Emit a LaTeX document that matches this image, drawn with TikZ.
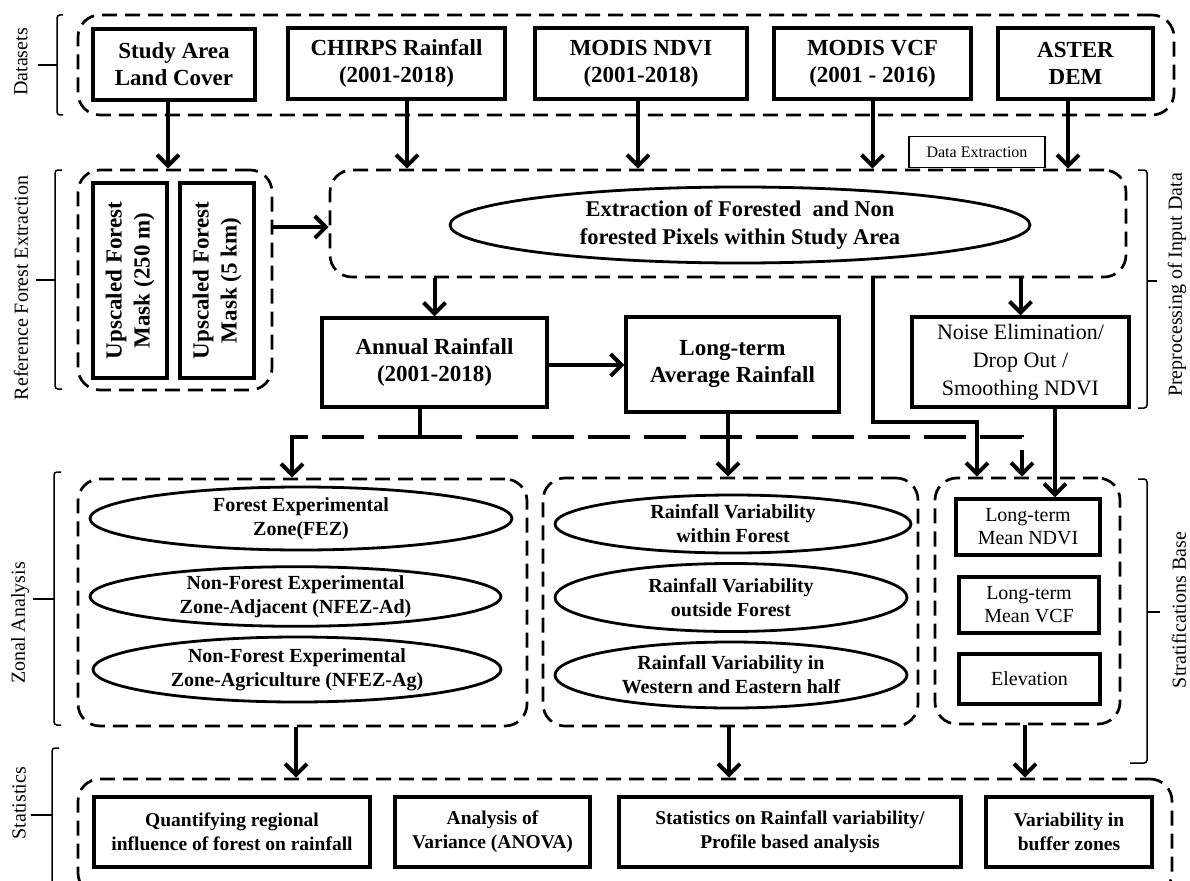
\documentclass[tikz,border=0pt]{standalone}
\usepackage{fontspec}
\setmainfont{Liberation Serif}
\usetikzlibrary{arrows.meta,shapes.geometric,calc}
\begin{document}
\begin{tikzpicture}[x=1pt,y=-1pt,
  bx/.style={draw,line width=3.2pt,inner sep=0pt,align=center,font=\fontsize{23}{27}\selectfont\bfseries},
  sbx/.style={draw,line width=3.2pt,inner sep=0pt,align=center,font=\fontsize{19.5}{24}\selectfont\bfseries},
  nbx/.style={draw,line width=3.2pt,inner sep=0pt,align=center,font=\fontsize{20}{23}\selectfont},
  grp/.style={draw,dash pattern=on 15pt off 8pt,line width=2.7pt,rounded corners=22pt,inner sep=0pt},
  ell/.style={draw,ellipse,line width=2.8pt,inner sep=0pt,align=center,font=\fontsize{20}{24}\selectfont\bfseries},
  arr/.style={line width=4pt,-{Straight Barb[length=11pt,width=22pt]}},
  ln/.style={line width=4pt},
  dline/.style={line width=4.5pt,dash pattern=on 42pt off 14pt},
  brk/.style={line width=1.5pt,rounded corners=3pt},
  lab/.style={rotate=90,font=\fontsize{20}{24}\selectfont,inner sep=0pt}]
\clip (0,0) rectangle (1190,880);

% ---------- Datasets ----------
\node[grp,minimum width=1096,minimum height=100] (ds) at (626,65) {};
\node[bx,minimum width=162,minimum height=71] (sa) at (174,64.5) {Study Area\\Land Cover};
\node[bx,minimum width=217,minimum height=71] (chirps) at (396.5,63.5) {CHIRPS Rainfall\\(2001-2018)};
\node[bx,minimum width=212,minimum height=71] (ndvi) at (641,63.5) {MODIS NDVI\\(2001-2018)};
\node[bx,minimum width=197,minimum height=71] (vcf) at (872.5,63.5) {MODIS VCF\\(2001 - 2016)};
\node[bx,minimum width=155,minimum height=71] (dem) at (1075.5,63.5) {ASTER\\DEM};

% ---------- Reference forest ----------
\node[grp,minimum width=194,minimum height=220] (refbox) at (175,280) {};
\node[bx,rotate=90,minimum width=195,minimum height=74,font=\fontsize{23}{28}\selectfont\bfseries] (m250) at (130,280.5) {Upscaled Forest\\Mask (250 m)};
\node[bx,rotate=90,minimum width=195,minimum height=74,font=\fontsize{23}{28}\selectfont\bfseries] (m5) at (217,280.5) {Upscaled Forest\\Mask (5 km)};

% ---------- Preprocessing ----------
\node[draw,line width=1.5pt,minimum width=136,minimum height=31,inner sep=0pt,font=\fontsize{16}{18}\selectfont] (dx) at (977,152) {Data Extraction};
\node[grp,minimum width=796,minimum height=107] (prep) at (728,223.5) {};
\node[ell,minimum width=580,minimum height=76,font=\fontsize{22.5}{28}\selectfont\bfseries] (ext) at (740,225) {Extraction of Forested\ \ and Non\\forested Pixels within Study Area};

\node[bx,minimum width=225,minimum height=89] (annual) at (434.5,362.5) {Annual Rainfall\\(2001-2018)};
\node[bx,minimum width=213,minimum height=95] (lt) at (732.5,364.5) {Long-term\\Average Rainfall};
\node[draw,line width=3.2pt,inner sep=0pt,align=center,font=\fontsize{22}{28}\selectfont,minimum width=217,minimum height=90] (noise) at (1020.5,362) {Noise Elimination/\\Drop Out /\\Smoothing NDVI};

% ---------- Zonal analysis ----------
\node[grp,minimum width=449,minimum height=247] (zoneL) at (302.5,602.5) {};
\node[grp,minimum width=375,minimum height=248] (zoneM) at (730.5,602) {};
\node[grp,minimum width=185,minimum height=246] (strat) at (1027.5,601) {};

\node[ell,minimum width=422,minimum height=63] (fez) at (301,518.5) {Forest Experimental\\Zone(FEZ)};
\node[ell,minimum width=411,minimum height=57] (nfad) at (295.5,596.5) {Non-Forest Experimental\\Zone-Adjacent (NFEZ-Ad)};
\node[ell,minimum width=408,minimum height=65] (nfag) at (297,669.5) {Non-Forest Experimental\\Zone-Agriculture (NFEZ-Ag)};

\node[ell,minimum width=356,minimum height=58] (rv1) at (733,524) {Rainfall Variability\\within Forest};
\node[ell,minimum width=352,minimum height=68] (rv2) at (731,597.5) {Rainfall Variability\\outside Forest};
\node[ell,minimum width=352,minimum height=66] (rv3) at (731,675) {Rainfall Variability in\\Western and Eastern half};

\node[nbx,minimum width=144,minimum height=56] (mndvi) at (1028,527) {Long-term\\Mean NDVI};
\node[nbx,minimum width=140,minimum height=56] (mvcf) at (1029,605) {Long-term\\Mean VCF};
\node[nbx,minimum width=141,minimum height=50] (elev) at (1029.5,679) {Elevation};

% ---------- Statistics ----------
\node[grp,minimum width=1094,minimum height=116] (stats) at (625,837) {};
\node[sbx,minimum width=276,minimum height=70] (quant) at (232,832) {Quantifying regional\\influence of forest on rainfall};
\node[sbx,minimum width=195,minimum height=70] (anova) at (492.5,832) {Analysis of\\Variance (ANOVA)};
\node[sbx,minimum width=342,minimum height=70] (rstat) at (790,832) {Statistics on Rainfall variability/\\Profile based analysis};
\node[sbx,minimum width=166,minimum height=70] (buf) at (1069,832) {Variability in\\buffer zones};

% ---------- Connectors ----------
\draw[arr] ([xshift=-6pt]sa.south) -- ([xshift=-6pt]sa.south |- refbox.north);
\draw[arr] ([xshift=10.5pt]chirps.south) -- ([xshift=10.5pt]chirps.south |- prep.north);
\draw[arr] ([xshift=-3pt]ndvi.south) -- ([xshift=-3pt]ndvi.south |- prep.north);
\draw[arr] (vcf.south) -- (vcf.south |- prep.north);
\draw[arr] ([xshift=-7.5pt]dem.south) -- ([xshift=-7.5pt]dem.south |- prep.north);

\draw[arr] (refbox.east |- 0,227) -- (prep.west |- 0,227);
\draw[arr] (prep.south -| annual.north) -- (annual.north);
\draw[arr] (prep.south -| noise.north) -- (noise.north);
\draw[arr] (annual.east |- 0,365) -- (lt.west |- 0,365);
\draw[arr] (prep.south -| 873,0) -- (873,422) -- (977,422) -- (strat.north -| 977,0);

\draw[ln] (annual.south -| 420,0) -- (420,437) coordinate (jn);
\draw[dline] (jn) -- (292,437) -- (292,455);
\draw[arr] (292,455) -- (zoneL.north -| 292,0);
\draw[dline] (jn) -- (1022,437) -- (1022,450);
\draw[arr] (1022,450) -- (strat.north -| 1022,0);

\draw[arr] (lt.south -| 728,0) -- (zoneM.north -| 728,0);
\draw[arr] (noise.south -| 1055,0) -- (mndvi.north -| 1055,0);

\draw[arr] (zoneL.south -| 296,0) -- (stats.north -| 296,0);
\draw[arr] (zoneM.south -| 729,0) -- (stats.north -| 729,0);
\draw[arr] (strat.south -| 1025,0) -- (stats.north -| 1025,0);

% ---------- Brackets and labels ----------
\draw[brk] (63,15) -- (57,15) -- (57,115) -- (63,115);
\draw[brk] (57,65) -- (38,65);
\node[lab] (lds) at (21,62) {Datasets};

\draw[brk] (62,170) -- (55,170) -- (55,389) -- (62,389);
\draw[brk] (55,280) -- (36,280);
\node[lab] (lref) at (21,288) {Reference Forest Extraction};

\draw[brk] (61,472) -- (54,472) -- (54,725) -- (61,725);
\draw[brk] (54,599) -- (33,599);
\node[lab] (lzon) at (20,623) {Zonal Analysis};

\draw[brk] (59,748) -- (52,748) -- (52,885);
\draw[brk] (52,815) -- (31,815);
\node[lab] (lsta) at (19,803) {Statistics};

\draw[brk] (1138,170) -- (1147,170) -- (1147,408) -- (1138,408);
\draw[brk] (1147,281) -- (1157,281);
\node[lab] (lpre) at (1177,285) {Preprocessing of Input Data};

\draw[brk] (1138,479) -- (1147,479) -- (1147,763) -- (1130,763);
\draw[brk] (1147,612) -- (1160,612);
\node[lab] (lstr) at (1179,610) {Stratifications Base};
\end{tikzpicture}
\end{document}
